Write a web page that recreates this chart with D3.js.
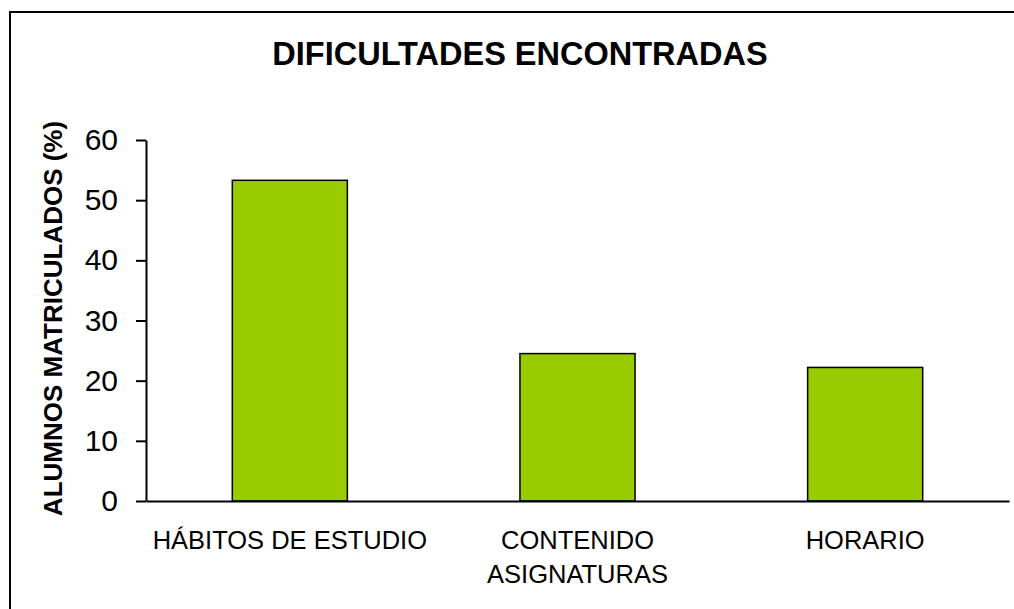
<!DOCTYPE html>
<html>
<head>
<meta charset="utf-8">
<script src="https://cdn.jsdelivr.net/npm/d3@7"></script>
<style>
  body { margin: 0; background: #fff; }
  svg { display: block; font-family: "Liberation Sans", Arial, sans-serif; }
</style>
</head>
<body>
<div id="chart"></div>
<script>
const categories = ["HÁBITOS DE ESTUDIO", "CONTENIDO\nASIGNATURAS", "HORARIO"];
const values = [53.3, 24.5, 22.2];
const yTicks = [0, 10, 20, 30, 40, 50, 60];
const title = "DIFICULTADES ENCONTRADAS";
const yLabel = "ALUMNOS MATRICULADOS (%)";

const w = 1014, h = 609;
const plotLeft = 146, plotRight = 1009, plotTop = 140, plotBottom = 501;

const svg = d3.select("#chart").append("svg")
    .attr("width", w)
    .attr("height", h);

// outer frame (runs past the right and bottom edges)
svg.append("rect")
    .attr("x", 10).attr("y", 12)
    .attr("width", 1040).attr("height", 640)
    .attr("fill", "none")
    .attr("stroke", "#000")
    .attr("stroke-width", 2);

const xScale = d3.scaleBand()
    .domain(categories)
    .range([plotLeft, plotRight])
    .paddingInner(0.6)
    .paddingOuter(0.3);

const yScale = d3.scaleLinear()
    .domain([0, 60])
    .range([plotBottom, plotTop]);

svg.append("text")
    .attr("x", 520).attr("y", 65)
    .attr("text-anchor", "middle")
    .attr("font-size", 32.5)
    .attr("font-weight", "bold")
    .text(title);

svg.append("text")
    .attr("transform", "translate(62," + ((plotTop + plotBottom) / 2 - 2) + ") rotate(-90)")
    .attr("text-anchor", "middle")
    .attr("font-size", 26)
    .attr("font-weight", "bold")
    .text(yLabel);

svg.selectAll("rect.bar")
    .data(values)
    .enter()
    .append("rect")
    .attr("class", "bar")
    .attr("x", (d, i) => xScale(categories[i]))
    .attr("y", d => yScale(d))
    .attr("width", xScale.bandwidth())
    .attr("height", d => yScale(0) - yScale(d))
    .attr("fill", "#99cc00")
    .attr("stroke", "#000")
    .attr("stroke-width", 1.5);

const yAxis = d3.axisLeft(yScale)
    .tickValues(yTicks)
    .tickSize(10)
    .tickPadding(18)
    .tickSizeOuter(0);

const gy = svg.append("g")
    .attr("transform", "translate(" + plotLeft + ",0)")
    .call(yAxis);
gy.select(".domain").attr("stroke-width", 2);
gy.selectAll(".tick line").attr("stroke-width", 2);
gy.selectAll(".tick text")
    .attr("font-size", 30)
    .attr("font-family", "Liberation Sans, Arial, sans-serif")
    .attr("fill", "#000");

const xAxis = d3.axisBottom(xScale)
    .tickSize(0)
    .tickSizeOuter(0);

const gx = svg.append("g")
    .attr("transform", "translate(0," + plotBottom + ")")
    .call(xAxis);
gx.select(".domain").attr("stroke-width", 2);
gx.selectAll(".tick text")
    .attr("font-size", 25.5)
    .attr("font-family", "Liberation Sans, Arial, sans-serif")
    .attr("fill", "#000")
    .attr("y", 48)
    .attr("dy", null)
    .each(function (d) {
        const t = d3.select(this);
        t.text(null);
        d.split("\n").forEach((line, i) => {
            t.append("tspan")
                .attr("x", 0)
                .attr("dy", i === 0 ? 0 : 34)
                .text(line);
        });
    });
</script>
</body>
</html>
